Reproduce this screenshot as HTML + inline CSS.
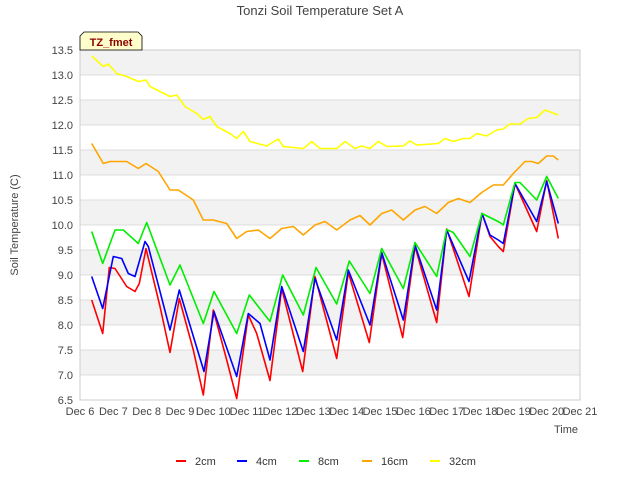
<!DOCTYPE html>
<html><head><meta charset="utf-8"><style>
body{margin:0;background:#fff;font-family:"Liberation Sans",sans-serif}
svg text{font-family:"Liberation Sans",sans-serif}
</style></head><body>
<svg id="chart" width="640" height="480" xmlns="http://www.w3.org/2000/svg">
<rect width="640" height="480" fill="#fff"/>
<text x="320" y="15" text-anchor="middle" font-size="13" fill="#444">Tonzi Soil Temperature Set A</text>
<g id="bands"></g>
<g id="grid"></g>
<rect x="80" y="50" width="500" height="350" fill="none" stroke="#ccc"/>
<g id="yticks"></g>
<g id="xticks"></g>
<g id="series"></g>
<text transform="translate(18,225) rotate(-90)" text-anchor="middle" font-size="11" fill="#444">Soil Temperature (C)</text>
<text x="566" y="433" text-anchor="middle" font-size="11" fill="#444">Time</text>
<g>
<path d="M84,32 L138,32 L142,36 L142,50 L80,50 L80,36 Z" fill="#ffffcc" stroke="#000" stroke-width="0.8"/>
<text x="111" y="46" text-anchor="middle" font-size="11" font-weight="bold" fill="#8b0000">TZ_fmet</text>
</g>
<g id="legend"></g>
</svg>
<script>
const yTicks=[6.5,7.0,7.5,8.0,8.5,9.0,9.5,10.0,10.5,11.0,11.5,12.0,12.5,13.0,13.5];
const xLabels=["Dec 6","Dec 7","Dec 8","Dec 9","Dec 10","Dec 11","Dec 12","Dec 13","Dec 14","Dec 15","Dec 16","Dec 17","Dec 18","Dec 19","Dec 20","Dec 21"];
const seriesNames=["2cm","4cm","8cm","16cm","32cm"];
const seriesColors=["#ff0000","#0000ff","#00ee00","#ffa500","#ffff00"];
const t2=[0.35,0.68,0.88,1.05,1.4,1.65,1.78,1.98,2.4,2.7,2.98,3.4,3.7,4.0,4.4,4.7,5.05,5.3,5.7,6.05,6.68,7.05,7.7,8.05,8.68,9.05,9.68,10.05,10.7,11.0,11.67,12.06,12.3,12.55,12.7,13.05,13.7,14.0,14.35];
const v2=[8.5,7.83,9.15,9.13,8.77,8.67,8.83,9.53,8.37,7.45,8.53,7.5,6.6,8.3,7.3,6.53,8.2,7.83,6.89,8.73,7.07,8.97,7.33,9.05,7.65,9.43,7.75,9.57,8.05,9.92,8.57,10.23,9.77,9.57,9.47,10.83,9.87,10.89,9.73];
const t4=[0.35,0.68,1.0,1.25,1.45,1.65,1.95,2.05,2.7,2.98,3.72,4.02,4.7,5.05,5.4,5.7,6.05,6.7,7.05,7.7,8.05,8.7,9.05,9.7,10.05,10.7,11.0,11.67,12.06,12.3,12.55,12.7,13.05,13.7,14.0,14.35];
const v4=[8.97,8.33,9.37,9.33,9.03,8.97,9.67,9.57,7.9,8.7,7.07,8.27,6.97,8.23,8.03,7.3,8.77,7.47,8.93,7.7,9.1,8.0,9.45,8.1,9.6,8.3,9.9,8.87,10.23,9.8,9.7,9.63,10.83,10.07,10.87,10.03];
const t8=[0.35,0.68,1.05,1.3,1.75,2.0,2.7,3.0,3.7,4.02,4.7,5.08,5.7,6.08,6.7,7.08,7.7,8.08,8.7,9.05,9.7,10.05,10.7,11.0,11.2,11.7,12.06,12.3,12.6,12.7,13.05,13.2,13.7,14.0,14.35];
const v8=[9.87,9.23,9.9,9.9,9.63,10.05,8.8,9.2,8.03,8.67,7.83,8.6,8.07,9.0,8.2,9.15,8.42,9.28,8.63,9.53,8.73,9.65,8.97,9.91,9.85,9.37,10.23,10.15,10.05,10.0,10.85,10.85,10.5,10.97,10.53];
const t16=[0.35,0.7,0.9,1.4,1.75,1.98,2.35,2.7,2.95,3.4,3.7,4.0,4.4,4.7,5.0,5.35,5.7,6.05,6.4,6.7,7.05,7.35,7.7,8.1,8.4,8.7,9.05,9.35,9.7,10.05,10.35,10.7,11.05,11.35,11.7,12.05,12.4,12.7,13.0,13.35,13.55,13.75,14.0,14.2,14.35];
const v16=[11.63,11.23,11.27,11.27,11.13,11.23,11.07,10.7,10.7,10.5,10.1,10.1,10.03,9.73,9.87,9.9,9.73,9.93,9.97,9.8,10.0,10.07,9.9,10.1,10.19,10.0,10.23,10.3,10.1,10.3,10.37,10.23,10.45,10.53,10.45,10.65,10.8,10.8,11.03,11.27,11.27,11.23,11.38,11.38,11.3];
const t32=[0.35,0.7,0.85,1.1,1.4,1.75,1.98,2.1,2.4,2.7,2.9,3.15,3.5,3.7,3.9,4.1,4.5,4.7,4.9,5.1,5.6,5.95,6.1,6.7,6.95,7.2,7.7,7.95,8.25,8.45,8.7,8.95,9.2,9.7,9.9,10.1,10.75,10.95,11.2,11.5,11.7,11.9,12.2,12.5,12.7,12.9,13.2,13.45,13.7,13.95,14.15,14.35];
const v32=[13.38,13.17,13.22,13.03,12.97,12.87,12.9,12.77,12.67,12.57,12.6,12.37,12.23,12.11,12.17,11.97,11.83,11.73,11.87,11.67,11.58,11.72,11.57,11.53,11.67,11.53,11.53,11.67,11.53,11.58,11.53,11.67,11.57,11.58,11.68,11.6,11.63,11.73,11.67,11.73,11.73,11.83,11.78,11.9,11.92,12.02,12.02,12.13,12.15,12.3,12.25,12.2];
const allT=[t2,t4,t8,t16,t32], allV=[v2,v4,v8,v16,v32];

const NS="http://www.w3.org/2000/svg";
const X0=80,X1=580,Y0=400,Y1=50,DMIN=0,DMAX=15,VMIN=6.5,VMAX=13.5;
function xs(d){return X0+(d-DMIN)/(DMAX-DMIN)*(X1-X0);}
function ys(v){return Y0-(v-VMIN)/(VMAX-VMIN)*(Y0-Y1);}
function mk(tag,attrs,parent){const e=document.createElementNS(NS,tag);for(const k in attrs)e.setAttribute(k,attrs[k]);parent.appendChild(e);return e;}
const bands=document.getElementById('bands'),grid=document.getElementById('grid'),yt=document.getElementById('yticks'),xt=document.getElementById('xticks'),ser=document.getElementById('series'),leg=document.getElementById('legend');
for(let i=0;i<yTicks.length-1;i++){
  const top=yTicks[i+1],bot=yTicks[i];
  const r=mk('rect',{x:X0,y:ys(top),width:X1-X0,height:ys(bot)-ys(top),fill:(i%2===1)?'#f2f2f2':'#ffffff'},bands);
  
  
}
yTicks.forEach(v=>{
  const l=mk('line',{x1:X0,x2:X1,y1:ys(v),y2:ys(v),stroke:'#dcdcdc','stroke-width':1},grid);
  
  
  const t=mk('text',{x:73,y:ys(v)+4,'text-anchor':'end','font-size':11,fill:'#444'},yt);
  t.textContent=v.toFixed(1);
  
  
});
xLabels.forEach((s,i)=>{
  const t=mk('text',{x:xs(i),y:415,'text-anchor':'middle','font-size':11,fill:'#444'},xt);
  t.textContent=s;
  
  
});
allT.forEach((T,s)=>{
  const d=T.map((t,i)=>(i?'L':'M')+xs(t).toFixed(1)+','+ys(allV[s][i]).toFixed(1)).join(' ');
  const p=mk('path',{d:d,fill:'none',stroke:seriesColors[s],'stroke-width':1.6,'stroke-linejoin':'round'},ser);
  
  
});
const legX=[176,237,299,362,430];
seriesNames.forEach((n,i)=>{
  const g=mk('g',{},leg);
  
  
  mk('line',{x1:legX[i],x2:legX[i]+10,y1:461,y2:461,stroke:seriesColors[i],'stroke-width':2},g);
  const t=mk('text',{x:legX[i]+19,y:465,'font-size':11,fill:'#333'},g);
  t.textContent=n;
});
</script>
</body></html>
